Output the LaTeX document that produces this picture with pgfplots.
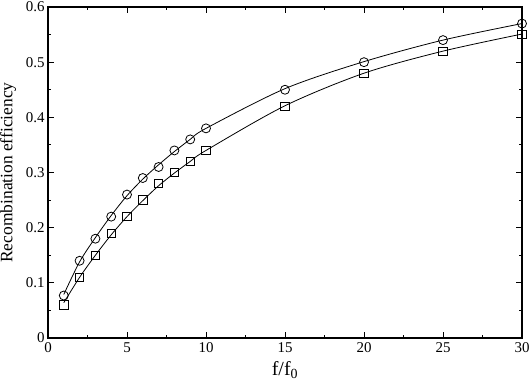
\documentclass[border=0pt]{standalone}
\usepackage{fontspec}
\setmainfont{Liberation Serif}
\usepackage{pgfplots}
\pgfplotsset{compat=1.18}
\begin{document}
\begin{tikzpicture}
\begin{axis}[
  at={(0,0)}, anchor=south west,
  scale only axis, width=474bp, height=331bp,
  xmin=0, xmax=30, ymin=0, ymax=0.6,
  xtick={0,5,10,15,20,25,30},
  ytick={0,0.1,0.2,0.3,0.4,0.5,0.6},
  yticklabels={0,0.1,0.2,0.3,0.4,0.5,0.6},
  minor x tick num=1, minor y tick num=1,
  xtick pos=both, ytick pos=both,
  xticklabel pos=bottom, yticklabel pos=left,
  tick align=inside,
  major tick length=6bp, minor tick length=3bp,
  every tick/.style={black, line width=0.9bp},
  axis line style={line width=1.5bp},
  tick label style={font=\fontsize{15}{15}\selectfont},
  xticklabel style={yshift=-1bp},
  yticklabel style={xshift=0bp},
  /pgf/number format/assume math mode=true,
  xlabel={f/f\textsubscript{0}},
  ylabel={Recombination efficiency},
  xlabel style={font=\fontsize{20}{20}\selectfont, at={([yshift=-37bp]axis description cs:0.5,0)}, anchor=base},
  ylabel style={font=\fontsize{17.5}{17.5}\selectfont, at={([xshift=-40bp]axis description cs:0,0.5)}, anchor=center},
  clip=false,
]
% fitted curves
\addplot[black, line width=0.8bp, smooth, tension=0.5] coordinates {
(1,0.079) (2,0.138) (3,0.182) (4,0.222) (5,0.258) (6,0.288) (7,0.314) (8,0.338) (9,0.360) (10,0.380) (15,0.452) (20,0.501) (25,0.540) (30,0.570)};
\addplot[black, line width=0.8bp, smooth, tension=0.5] coordinates {
(1,0.064) (2,0.110) (3,0.150) (4,0.187) (5,0.220) (6,0.249) (7,0.276) (8,0.299) (9,0.320) (10,0.340) (15,0.421) (20,0.480) (25,0.520) (30,0.551)};
% data
\addplot[black, only marks, mark=o, mark size=4.5bp, mark options={line width=0.8bp}] coordinates {
(1,0.077) (2,0.14) (3,0.18) (4,0.22) (5,0.26) (6,0.29) (7,0.31) (8,0.34) (9,0.36) (10,0.38) (15,0.45) (20,0.50) (25,0.54) (30,0.57)};
\addplot[black, only marks, mark=square, mark size=4.2bp, mark options={line width=0.8bp}] coordinates {
(1,0.06) (2,0.11) (3,0.15) (4,0.19) (5,0.22) (6,0.25) (7,0.28) (8,0.30) (9,0.32) (10,0.34) (15,0.42) (20,0.48) (25,0.52) (30,0.55)};
\end{axis}
\pgfresetboundingbox
\path (-48bp,-43bp) rectangle (482bp,338bp);
\end{tikzpicture}
\end{document}
